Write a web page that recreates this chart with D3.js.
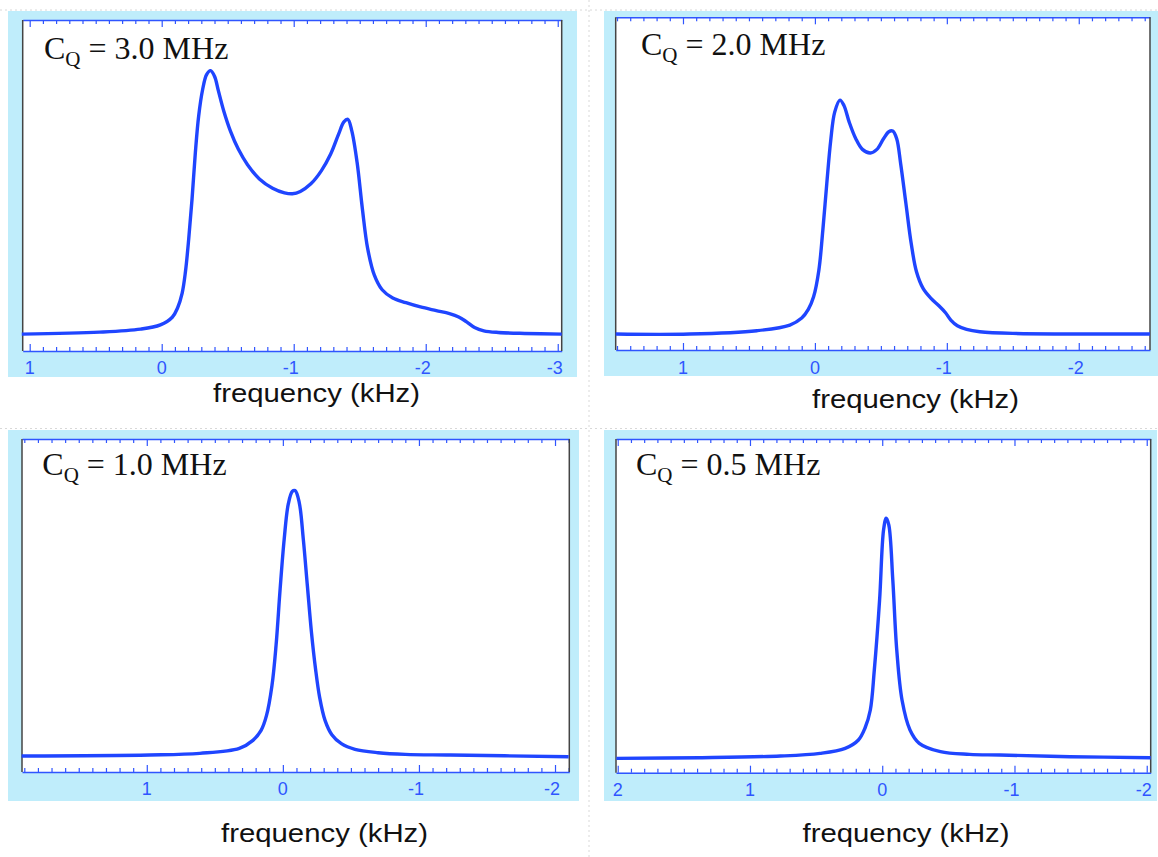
<!DOCTYPE html>
<html>
<head>
<meta charset="utf-8">
<script src="https://cdn.jsdelivr.net/npm/d3@7"></script>
<style>
  body { margin: 0; background: #fff; }
  svg { display: block; }
</style>
</head>
<body>
<svg id="chart"></svg>
<script>
var width = 1158,
    height = 857;

// spectra: frequency (kHz) and intensity (% of plot height)
var cq30Freq = [1.06, 0.47, 0.16, 0.01, -0.08, -0.12, -0.155, -0.18, -0.205, -0.23, -0.255, -0.28, -0.31, -0.34, -0.37, -0.40, -0.43, -0.47, -0.52, -0.58, -0.65, -0.74, -0.84, -0.93, -0.99, -1.05, -1.13, -1.21, -1.28, -1.34, -1.38, -1.41, -1.44, -1.48, -1.52, -1.56, -1.61, -1.67, -1.75, -1.85, -1.96, -2.08, -2.18, -2.25, -2.31, -2.37, -2.44, -2.55, -2.75, -3.03];
var cq30Int  = [5.1, 5.7, 6.6, 7.9, 10.2, 13.0, 17.5, 24, 34, 46, 60, 71, 79, 83.5, 84.7, 83, 78.5, 72.5, 66.5, 61, 56.3, 52, 49.2, 47.8, 47.5, 48.2, 50.5, 54.5, 59.5, 65.5, 69.2, 70.0, 66.5, 57, 43, 31, 23, 18.5, 16.0, 14.6, 13.3, 12.2, 11.3, 10.3, 8.8, 7.1, 6.1, 5.6, 5.3, 5.1];

var cq20Freq = [1.51, 0.95, 0.44, 0.19, 0.10, 0.05, 0.01, -0.03, -0.06, -0.09, -0.12, -0.15, -0.19, -0.22, -0.26, -0.31, -0.36, -0.42, -0.47, -0.52, -0.56, -0.59, -0.62, -0.65, -0.69, -0.73, -0.77, -0.82, -0.88, -0.94, -0.99, -1.03, -1.08, -1.15, -1.25, -1.50, -2.54];
var cq20Int  = [4.8, 4.8, 5.8, 7.5, 9.6, 12.2, 16, 24, 36, 50, 63, 71.5, 75.1, 73.5, 68.5, 63.5, 60.3, 59.2, 60.3, 63.5, 65.6, 65.8, 63.5, 56, 44, 32, 23.5, 18.5, 15.5, 13.3, 11.2, 9.0, 7.3, 6.2, 5.5, 5.0, 4.8];

var cq10Freq = [1.92, 0.98, 0.61, 0.32, 0.22, 0.16, 0.12, 0.08, 0.05, 0.02, -0.01, -0.04, -0.07, -0.09, -0.12, -0.15, -0.18, -0.21, -0.24, -0.27, -0.31, -0.36, -0.43, -0.53, -0.70, -0.90, -1.23, -2.10];
var cq10Int  = [4.8, 5.1, 5.6, 7.1, 9.5, 12.5, 17, 26, 38, 55, 70, 80.5, 84.3, 84.5, 81, 70, 56, 42, 31, 22.5, 15.5, 11.2, 8.5, 6.8, 5.8, 5.3, 5.1, 4.6];

var cq05Freq = [2.01, 1.38, 0.77, 0.47, 0.28, 0.18, 0.13, 0.09, 0.06, 0.02, -0.01, -0.03, -0.05, -0.08, -0.11, -0.15, -0.21, -0.28, -0.44, -0.66, -0.89, -1.42, -2.03];
var cq05Int  = [4.3, 4.5, 5.0, 5.8, 7.3, 9.8, 13.4, 18.8, 30.7, 51.7, 72.7, 76.3, 74.2, 57.7, 36.7, 21.7, 12.8, 8.8, 6.3, 5.5, 5.3, 4.8, 4.5];

// tick labels
var ticks30 = [1, 0, -1, -2, -3];
var ticks20 = [1, 0, -1, -2];
var ticks10 = [1, 0, -1, -2];
var ticks05 = [2, 1, 0, -1, -2];

var titles = ["3.0", "2.0", "1.0", "0.5"];

var panels = [
  {title: titles[0], freq: cq30Freq, inten: cq30Int, ticks: ticks30, domain: [1.053, -3.03],
   box: [8, 11, 577, 377], plot: [22.7, 20, 561.7, 351], tx: 44, ty: 59, ly: 373.5, fx: 316.5, fy: 402},
  {title: titles[1], freq: cq20Freq, inten: cq20Int, ticks: ticks20, domain: [1.51, -2.54],
   box: [604, 11, 1158, 376], plot: [615.7, 17.3, 1150, 350], tx: 641, ty: 55, ly: 373.5, fx: 915.5, fy: 408},
  {title: titles[2], freq: cq10Freq, inten: cq10Int, ticks: ticks10, domain: [1.917, -2.105],
   box: [8, 430, 579, 801], plot: [22, 439, 569.3, 772], tx: 42.3, ty: 475, ly: 795, fx: 324.5, fy: 841.7},
  {title: titles[3], freq: cq05Freq, inten: cq05Int, ticks: ticks05, domain: [2.013, -2.03],
   box: [604, 430, 1157, 801], plot: [616, 439, 1150.7, 772.7], tx: 636, ty: 475, ly: 796, fx: 906, fy: 841.7}
];

var svg = d3.select('#chart')
            .attr('width', width)
            .attr('height', height);

// faint dotted separators between the four pictures
var sepColor = '#d8d8d8';
svg.append('line').attr('x1', 0).attr('x2', width).attr('y1', 10).attr('y2', 10)
   .attr('stroke', sepColor).attr('stroke-dasharray', '2,3');
svg.append('line').attr('x1', 0).attr('x2', width).attr('y1', 428.5).attr('y2', 428.5)
   .attr('stroke', sepColor).attr('stroke-dasharray', '2,3');
svg.append('line').attr('x1', 589).attr('x2', 589).attr('y1', 0).attr('y2', height)
   .attr('stroke', sepColor).attr('stroke-dasharray', '2,3');

var axisBlue = '#2f55ff';
var lineBlue = '#1f45ff';

panels.forEach(function(p) {
  var g = svg.append('g');
  var left = p.plot[0], top = p.plot[1], right = p.plot[2], bottom = p.plot[3];

  g.append('rect')
    .attr('x', p.box[0]).attr('y', p.box[1])
    .attr('width', p.box[2] - p.box[0]).attr('height', p.box[3] - p.box[1])
    .attr('fill', '#bfedfb');

  g.append('rect')
    .attr('x', left).attr('y', top)
    .attr('width', right - left).attr('height', bottom - top)
    .attr('fill', '#fff');

  var x = d3.scaleLinear().domain(p.domain).range([left, right]);
  var y = d3.scaleLinear().domain([0, 100]).range([bottom, top]);

  var lo = Math.min(p.domain[0], p.domain[1]), hi = Math.max(p.domain[0], p.domain[1]);
  var minor = d3.range(Math.ceil(lo * 10 - 1e-6), Math.floor(hi * 10 + 1e-6) + 1)
                .map(function(v) { return v / 10; })
                .filter(function(v) { return Math.abs(v - Math.round(v)) > 1e-6; });

  // bottom axis, ticks pointing up into the plot
  var bot = g.append('g').attr('transform', 'translate(0,' + bottom + ')');
  bot.call(d3.axisTop(x).tickValues(minor).tickSize(4).tickSizeOuter(0).tickFormat(''));
  bot.append('g').call(d3.axisTop(x).tickValues(p.ticks).tickSize(7).tickSizeOuter(0).tickFormat(''))
     .select('.domain').remove();

  // top axis, ticks pointing down
  var tp = g.append('g').attr('transform', 'translate(0,' + top + ')');
  tp.call(d3.axisBottom(x).tickValues(minor).tickSize(4).tickSizeOuter(0).tickFormat(''));
  tp.append('g').call(d3.axisBottom(x).tickValues(p.ticks).tickSize(7).tickSizeOuter(0).tickFormat(''))
    .select('.domain').remove();

  g.selectAll('.domain').attr('stroke', axisBlue).attr('stroke-width', 1.5);
  g.selectAll('.tick line').attr('stroke', axisBlue).attr('stroke-width', 1.2);

  // tick labels: digit centred on the tick, minus sign hanging left
  g.selectAll('.tlabel')
    .data(p.ticks)
    .enter()
    .append('text')
      .attr('x', function(d) { return x(d) + 5; })
      .attr('y', p.ly)
      .attr('text-anchor', 'end')
      .style('font-family', '"Liberation Sans", Arial, sans-serif')
      .style('font-size', '18px')
      .attr('fill', axisBlue)
      .text(function(d) { return String(d); });

  // side borders
  g.append('line').attr('x1', left).attr('x2', left).attr('y1', top).attr('y2', bottom)
    .attr('stroke', '#444').attr('stroke-width', 1.5);
  g.append('line').attr('x1', right).attr('x2', right).attr('y1', top).attr('y2', bottom)
    .attr('stroke', '#444').attr('stroke-width', 1.5);

  var pts = p.freq.map(function(f, i) { return [f, p.inten[i]]; });
  var line = d3.line()
               .x(function(d) { return x(d[0]); })
               .y(function(d) { return y(d[1]); })
               .curve(d3.curveCatmullRom.alpha(0.5));

  g.append('path')
    .datum(pts)
    .attr('d', line)
    .attr('fill', 'none')
    .attr('stroke', lineBlue)
    .attr('stroke-width', 3.4)
    .attr('stroke-linejoin', 'round');

  var t = g.append('text')
    .attr('x', p.tx).attr('y', p.ty)
    .style('font-family', '"Liberation Serif", "Times New Roman", serif')
    .style('font-size', '32px')
    .attr('fill', '#111');
  t.append('tspan').text('C');
  t.append('tspan').attr('dy', 7).style('font-size', '21px').text('Q');
  t.append('tspan').attr('dy', -7).text(' = ' + p.title + ' MHz');

  g.append('text')
    .attr('x', p.fx).attr('y', p.fy)
    .attr('text-anchor', 'middle')
    .attr('textLength', 207)
    .attr('lengthAdjust', 'spacingAndGlyphs')
    .style('font-family', '"Liberation Sans", Arial, sans-serif')
    .style('font-size', '26px')
    .attr('fill', '#111')
    .text('frequency (kHz)');
});
</script>
</body>
</html>
